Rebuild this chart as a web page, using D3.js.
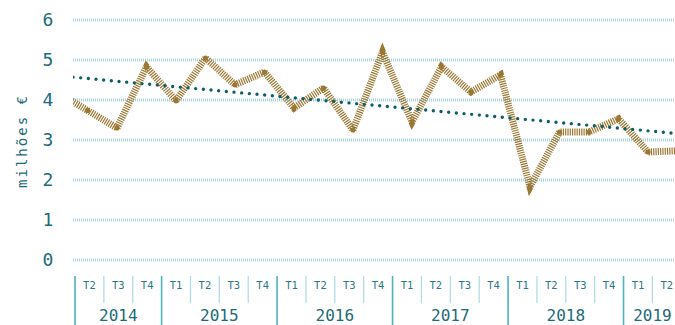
<!DOCTYPE html>
<html>
<head>
<meta charset="utf-8">
<script src="https://cdn.jsdelivr.net/npm/d3@7"></script>
<style>
  html, body { margin: 0; padding: 0; background: #fff; }
  svg { display: block; font-family: "DejaVu Sans Mono", monospace; }
</style>
</head>
<body>
<svg id="chart" width="675" height="325"></svg>
<script>
// Quarterly values (millions of euros), 2014 T2 – 2019 T2
const years = ["2014", "2015", "2016", "2017", "2018", "2019"];
const quarters = [
  "2014 T2", "2014 T3", "2014 T4",
  "2015 T1", "2015 T2", "2015 T3", "2015 T4",
  "2016 T1", "2016 T2", "2016 T3", "2016 T4",
  "2017 T1", "2017 T2", "2017 T3", "2017 T4",
  "2018 T1", "2018 T2", "2018 T3", "2018 T4",
  "2019 T1", "2019 T2"
];
const values = [
  3.74, 3.30, 4.83,
  3.98, 5.05, 4.38, 4.70,
  3.80, 4.30, 3.25, 5.20,
  3.45, 4.83, 4.20, 4.63,
  1.83, 3.20, 3.20, 3.53,
  2.70, 2.73
];
// 2014 T1, just left of the visible window
const priorValue = 4.18;
const yTicks = [0, 1, 2, 3, 4, 5, 6];

const W = 675, H = 325;
const left = 73, y0 = 260, yTop = 20;
const svg = d3.select("#chart");

const y = d3.scaleLinear().domain([0, 6]).range([y0, yTop]);

// band scale for the quarter axis
const xBand = d3.scaleBand().domain(quarters).range([75, 75 + 21 * 28.87]).paddingInner(0).paddingOuter(0);
// point positions for the series
const xLine = d3.scaleLinear().domain([0, 20]).range([87.5, 87.5 + 20 * 29.5]);

const teal = "#1d6b78";

// gridlines
svg.append("g").selectAll("line").data(yTicks).join("line")
  .attr("x1", left).attr("x2", W)
  .attr("y1", d => y(d)).attr("y2", d => y(d))
  .attr("stroke", "#a6d4dc").attr("stroke-width", 3)
  .attr("stroke-dasharray", "1,1");

// y tick labels
svg.append("g").selectAll("text").data(yTicks).join("text")
  .attr("x", 48).attr("y", d => y(d))
  .attr("dy", "0.36em")
  .attr("text-anchor", "middle")
  .attr("fill", teal)
  .attr("font-size", 18)
  .text(d => d);

// y axis title
svg.append("text")
  .attr("transform", "translate(27,141) rotate(-90)")
  .attr("text-anchor", "middle")
  .attr("fill", teal)
  .attr("font-size", 14)
  .attr("letter-spacing", 2)
  .text("milhões €");

// quarter axis
const axisG = svg.append("g");
quarters.forEach((q, i) => {
  const x0 = xBand(q);
  const qLabel = q.split(" ")[1];
  const isYearStart = qLabel === "T1" || i === 0;
  axisG.append("line")
    .attr("x1", x0).attr("x2", x0)
    .attr("y1", 276).attr("y2", isYearStart ? 325 : 303)
    .attr("stroke", isYearStart ? "#4fb3bf" : "#a9dce2")
    .attr("stroke-width", isYearStart ? 1.6 : 1.2);
  axisG.append("text")
    .attr("x", x0 + xBand.bandwidth() / 2).attr("y", 289)
    .attr("text-anchor", "middle")
    .attr("fill", "#2b7884")
    .attr("font-size", 10.5)
    .text(qLabel);
});
years.forEach(yr => {
  const qs = quarters.filter(q => q.startsWith(yr));
  const a = xBand(qs[0]);
  const b = xBand(qs[qs.length - 1]) + xBand.bandwidth();
  axisG.append("text")
    .attr("x", (a + b) / 2).attr("y", 321)
    .attr("text-anchor", "middle")
    .attr("fill", teal)
    .attr("font-size", 16)
    .text(yr);
});

// clip to the plot window
svg.append("clipPath").attr("id", "plotClip")
  .append("rect").attr("x", left).attr("y", 0).attr("width", W - left).attr("height", y0 + 10);

const plot = svg.append("g").attr("clip-path", "url(#plotClip)");

// series line (hatched)
const pts = [[xLine(-1), y(priorValue)]].concat(values.map((v, i) => [xLine(i), y(v)]));
const brown = "#9a7733";
plot.append("path")
  .attr("d", d3.line()(pts))
  .attr("fill", "none")
  .attr("stroke", brown)
  .attr("stroke-width", 7)
  .attr("stroke-dasharray", "1.2,1.1")
  .attr("stroke-linejoin", "miter");
plot.append("g").selectAll("circle").data(values).join("circle")
  .attr("cx", (d, i) => xLine(i)).attr("cy", d => y(d))
  .attr("r", 2.6).attr("fill", brown);

// least-squares trend over the quarterly values
const mi = d3.mean(values, (d, i) => i);
const mv = d3.mean(values);
const slope = d3.sum(values, (d, i) => (i - mi) * (d - mv)) / d3.sum(values, (d, i) => (i - mi) * (i - mi));
const trendAt = px => mv + slope * (xLine.invert(px) - mi);
plot.append("line")
  .attr("x1", left).attr("y1", y(trendAt(left)))
  .attr("x2", W).attr("y2", y(trendAt(W)))
  .attr("stroke", "#0d5e69")
  .attr("stroke-width", 3.4)
  .attr("stroke-linecap", "round")
  .attr("stroke-dasharray", "0,7.7");
</script>
</body>
</html>
